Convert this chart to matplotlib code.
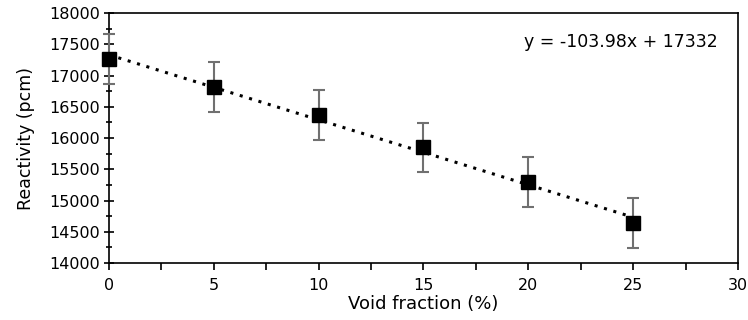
import numpy as np
import matplotlib
matplotlib.use('Agg')
import matplotlib.pyplot as plt
from matplotlib.ticker import MultipleLocator

# data
void_fraction = [0, 5, 10, 15, 20, 25]
reactivity = [17264, 16821, 16368, 15851, 15301, 14645]
error = [400, 397, 397, 397, 397, 397]

# trendline from the equation shown on the chart
slope = -103.98
intercept = 17332
eq_label = 'y = -103.98x + 17332'

plt.rcParams['font.family'] = ['DejaVu Sans']

fig = plt.figure(figsize=(7.48, 3.2), dpi=100)
ax = fig.add_axes([0.1457, 0.178, 0.8409, 0.781])

xt = np.array([void_fraction[0], void_fraction[-1]])
ax.plot(xt, slope * xt + intercept, color='black', lw=2.2,
        linestyle=(0, (1, 2.2)), zorder=2)

eb = ax.errorbar(void_fraction, reactivity, yerr=error, fmt='s', color='black',
                 markersize=10.5, ecolor='#707070', elinewidth=1.5, capsize=4,
                 capthick=1.5, zorder=3)
for art in eb.get_children():
    art.set_clip_on(False)

ax.text(0.968, 0.884, eq_label, transform=ax.transAxes, ha='right',
        va='center', fontsize=12.5)

ax.set_xlim(0, 30)
ax.set_ylim(14000, 18000)
ax.xaxis.set_major_locator(MultipleLocator(5))
ax.xaxis.set_minor_locator(MultipleLocator(2.5))
ax.yaxis.set_major_locator(MultipleLocator(500))
ax.yaxis.set_minor_locator(MultipleLocator(250))
ax.tick_params(axis='x', which='both', direction='out', length=5, width=1.2,
               labelsize=11.5, pad=6)
ax.tick_params(axis='y', which='major', direction='inout', length=7, width=1.2,
               labelsize=11.5, pad=3)
ax.tick_params(axis='y', which='minor', direction='inout', length=5, width=1.2)

for s in ax.spines.values():
    s.set_linewidth(1.2)
    s.set_color('black')

ax.set_xlabel('Void fraction (%)', fontsize=13, labelpad=1)
ax.set_ylabel('Reactivity (pcm)', fontsize=12.5, labelpad=10)

plt.savefig('out.png', dpi=100)
